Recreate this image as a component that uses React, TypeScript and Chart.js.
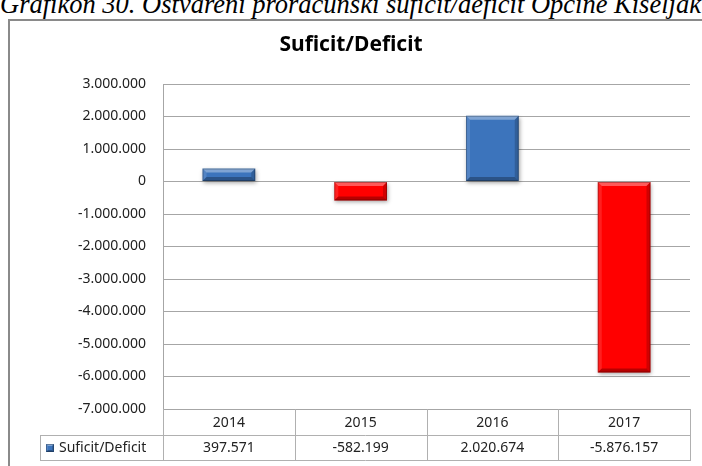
import React, { useEffect, useRef } from "react";
import { Chart, registerables } from "chart.js";

Chart.register(...registerables);

const CAPTION = "Grafikon 30. Ostvareni proračunski suficit/deficit Općine Kiseljak";
const TITLE = "Suficit/Deficit";
const SERIES_NAME = "Suficit/Deficit";
const YEARS = ["2014", "2015", "2016", "2017"];
const VALUES = [397571, -582199, 2020674, -5876157];
const Y_MIN = -7000000;
const Y_MAX = 3000000;
const Y_STEP = 1000000;

const BLUE = "#3C74BC";
const RED = "#FF0000";
const FONT = "'Noto Sans', 'Open Sans', sans-serif";

function fmt(v: number): string {
  const s = Math.abs(Math.round(v))
    .toString()
    .replace(/\B(?=(\d{3})+(?!\d))/g, ".");
  return (v < 0 ? "-" : "") + s;
}

function bevel(ctx: CanvasRenderingContext2D, left: number, top: number, right: number, bottom: number, bw: number) {
  const b = Math.min(bw, (bottom - top) / 2, (right - left) / 2);
  const poly = (pts: number[][], color: string) => {
    ctx.beginPath();
    ctx.moveTo(pts[0][0], pts[0][1]);
    for (let i = 1; i < pts.length; i++) ctx.lineTo(pts[i][0], pts[i][1]);
    ctx.closePath();
    ctx.fillStyle = color;
    ctx.fill();
  };
  poly([[left, top], [right, top], [right - b, top + b], [left + b, top + b]], "rgba(255,255,255,0.35)");
  poly([[left, top], [left + b, top + b], [left + b, bottom - b], [left, bottom]], "rgba(255,255,255,0.12)");
  poly([[right, top], [right, bottom], [right - b, bottom - b], [right - b, top + b]], "rgba(0,0,0,0.18)");
  poly([[left, bottom], [left + b, bottom - b], [right - b, bottom - b], [right, bottom]], "rgba(0,0,0,0.28)");
  ctx.strokeStyle = "rgba(0,0,0,0.25)";
  ctx.lineWidth = 1;
  ctx.strokeRect(left + 0.5, top + 0.5, right - left - 1, bottom - top - 1);
}

const shadowPlugin = {
  id: "barShadow",
  beforeDatasetsDraw(chart: any) {
    const ctx = chart.ctx;
    ctx.save();
    ctx.shadowColor = "rgba(0,0,0,0.35)";
    ctx.shadowBlur = 4;
    ctx.shadowOffsetX = 1;
    ctx.shadowOffsetY = 2;
  },
  afterDatasetsDraw(chart: any) {
    const ctx = chart.ctx;
    ctx.restore();
    const meta = chart.getDatasetMeta(0);
    ctx.save();
    meta.data.forEach((el: any) => {
      const p = el.getProps(["x", "y", "base", "width"], true);
      const left = p.x - p.width / 2;
      const right = p.x + p.width / 2;
      const top = Math.min(p.y, p.base);
      const bottom = Math.max(p.y, p.base);
      bevel(ctx, left, top, right, bottom, 4);
    });
    ctx.restore();
  },
};

const tablePlugin = {
  id: "dataTable",
  afterDraw(chart: any) {
    const { ctx, chartArea } = chart;
    const xs = chart.scales.x;
    const n = YEARS.length;
    const colW = chartArea.width / n;
    const top = Math.round(chartArea.bottom);
    const mid = top + 26;
    const bot = top + 51;
    const legendLeft = 40;
    const L = Math.round(chartArea.left);
    const R = Math.round(chartArea.right);
    ctx.save();
    ctx.strokeStyle = "#B0B0B0";
    ctx.lineWidth = 1;
    const line = (x1: number, y1: number, x2: number, y2: number) => {
      ctx.beginPath();
      ctx.moveTo(x1, y1);
      ctx.lineTo(x2, y2);
      ctx.stroke();
    };
    line(L + 0.5, top, L + 0.5, bot + 0.5);
    for (let i = 1; i < n; i++) {
      const xb = Math.round(chartArea.left + colW * i) + 0.5;
      line(xb, top, xb, bot + 0.5);
    }
    line(R + 0.5, top, R + 0.5, bot + 0.5);
    line(legendLeft, mid + 0.5, R + 1, mid + 0.5);
    line(legendLeft, bot + 0.5, R + 1, bot + 0.5);
    line(legendLeft + 0.5, mid, legendLeft + 0.5, bot + 0.5);

    ctx.fillStyle = "#222";
    ctx.font = `14px ${FONT}`;
    ctx.textAlign = "center";
    ctx.textBaseline = "middle";
    YEARS.forEach((yr, i) => {
      const cx = xs.getPixelForValue(i);
      ctx.fillText(yr, cx, (top + mid) / 2 + 1);
      ctx.fillText(fmt(VALUES[i]), cx, (mid + bot) / 2 + 1);
    });

    // legend key
    const kx = 46, ky = 444, ks = 8;
    ctx.fillStyle = BLUE;
    ctx.fillRect(kx, ky, ks, ks);
    bevel(ctx, kx, ky, kx + ks, ky + ks, 2);
    ctx.fillStyle = "#222";
    ctx.textAlign = "left";
    ctx.fillText(SERIES_NAME, 59, (mid + bot) / 2 + 1);

    // title
    ctx.font = `bold 21px ${FONT}`;
    ctx.textAlign = "center";
    ctx.fillStyle = "#000";
    ctx.fillText(TITLE, chart.width / 2, 45);
    ctx.restore();
  },
};

export default function App() {
  const ref = useRef<HTMLCanvasElement | null>(null);
  useEffect(() => {
    if (!ref.current) return;
    const chart = new Chart(ref.current, {
      type: "bar",
      data: {
        labels: YEARS,
        datasets: [
          {
            label: SERIES_NAME,
            data: VALUES,
            backgroundColor: VALUES.map((v) => (v >= 0 ? BLUE : RED)),
            borderWidth: 0,
            barPercentage: 0.4,
            categoryPercentage: 1,
          },
        ],
      },
      options: {
        responsive: false,
        animation: false,
        layout: { padding: { left: 8, right: 12, top: 84, bottom: 57 } },
        plugins: {
          legend: { display: false },
          title: { display: false },
          tooltip: { enabled: false },
        },
        scales: {
          x: { display: false },
          y: {
            min: Y_MIN,
            max: Y_MAX,
            afterFit: (s: any) => {
              s.width = 155;
            },
            ticks: {
              stepSize: Y_STEP,
              padding: 17,
              color: "#222",
              font: { family: FONT, size: 14 },
              callback: (v: any) => fmt(Number(v)),
            },
            grid: { color: "#A6A6A6", drawTicks: false },
            border: { color: "#A6A6A6" },
          },
        },
      },
      plugins: [shadowPlugin, tablePlugin],
    });
    return () => chart.destroy();
  }, []);

  return (
    <div style={{ position: "absolute", left: 0, top: 0, width: 702, height: 466, overflow: "hidden", background: "#fff" }}>
      <div
        style={{
          position: "absolute",
          left: 0,
          top: -10,
          whiteSpace: "nowrap",
          font: "italic 26.5px 'Liberation Serif', serif",
          lineHeight: "28px",
          color: "#000",
        }}
      >
        {CAPTION}
      </div>
      <div
        style={{
          position: "absolute",
          left: 8,
          top: 19,
          width: 720,
          height: 480,
          borderLeft: "2px solid #8A8A8A",
          borderTop: "2px solid #8A8A8A",
        }}
      />
      <canvas ref={ref} width={702} height={466} style={{ position: "absolute", left: 0, top: 0 }} />
    </div>
  );
}
